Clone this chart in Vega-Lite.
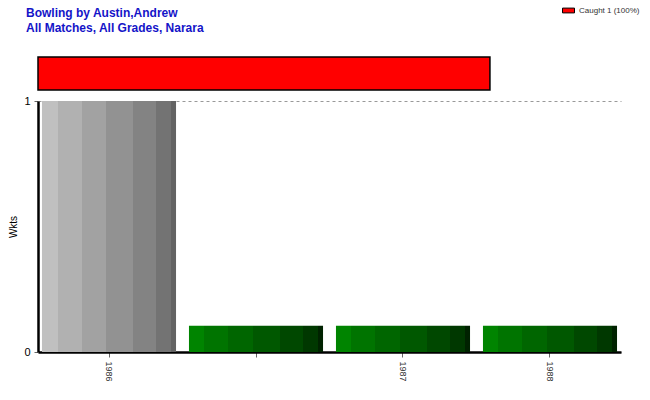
{
  "$schema": "https://vega.github.io/schema/vega-lite/v6.json",
  "autosize": {"type": "pad"},
  "padding": {"left": 8, "top": 4, "right": 5, "bottom": 5},
  "background": "white",
  "config": {
    "view": {"stroke": null},
    "font": "Liberation Sans"
  },
  "title": {
    "text": ["Bowling by Austin,Andrew", "All Matches, All Grades, Narara"],
    "anchor": "start",
    "frame": "group",
    "dx": -12,
    "offset": -31,
    "font": "Liberation Sans",
    "fontSize": 12,
    "fontWeight": "bold",
    "color": "#1414C8",
    "lineHeight": 15
  },
  "spacing": 4,
  "vconcat": [
    {
      "width": 583,
      "height": 33,
      "data": {"values": [{"type": "Caught 1 (100%)", "start": 0, "pct": 100}]},
      "mark": {"type": "rect", "stroke": "black", "strokeWidth": 1.5},
      "encoding": {
        "x": {"field": "start", "type": "quantitative", "scale": {"domain": [0, 129]}, "axis": null},
        "x2": {"field": "pct"},
        "color": {
          "field": "type",
          "type": "nominal",
          "scale": {"range": ["#ff0000"]},
          "legend": {
            "title": null,
            "orient": "none",
            "legendX": 524,
            "legendY": -53,
            "symbolType": "M-1,-0.4H1V0.4H-1Z",
            "symbolSize": 144,
            "symbolStrokeColor": "black",
            "symbolStrokeWidth": 1,
            "labelFontSize": 8,
            "labelColor": "#333333",
            "labelFont": "Liberation Sans"
          }
        }
      }
    },
    {
      "width": 583,
      "height": 251,
      "data": {
        "values": [
          {"year": "1986", "wkts": 1, "grp": "gray"},
          {"year": " ", "wkts": 0.105, "grp": "green"},
          {"year": "1987", "wkts": 0.105, "grp": "green"},
          {"year": "1988", "wkts": 0.105, "grp": "green"}
        ]
      },
      "encoding": {
        "x": {
          "field": "year",
          "type": "nominal",
          "scale": {"domain": ["1986", " ", "1987", "1988"], "paddingInner": 0.088, "paddingOuter": 0.027},
          "axis": {
            "title": null,
            "labelAngle": 90,
            "labelFontSize": 9,
            "labelColor": "#333333",
            "labelPadding": 4,
            "tickSize": 5,
            "tickColor": "#666666",
            "domainColor": "black",
            "domainWidth": 2.5,
            "grid": false
          }
        },
        "y": {
          "field": "wkts",
          "type": "quantitative",
          "scale": {"domain": [0, 1], "nice": false},
          "axis": {
            "title": "Wkts",
            "titleFontSize": 10,
            "titleFontWeight": "normal",
            "titleColor": "black",
            "titlePadding": 5,
            "values": [0, 1],
            "format": ".0f",
            "labelFontSize": 11,
            "labelColor": "black",
            "labelPadding": 4,
            "tickSize": 4,
            "tickColor": "#666666",
            "domainColor": "black",
            "domainWidth": 2.5,
            "grid": true,
            "gridColor": "#999999",
            "gridDash": [3, 3],
            "gridWidth": 1
          }
        }
      },
      "layer": [
        {
          "transform": [{"filter": "datum.grp === 'gray'"}],
          "mark": {
            "type": "bar",
            "fill": {
              "gradient": "linear", "x1": 0, "x2": 1, "y1": 0, "y2": 0,
              "stops": [
                {"offset": 0, "color": "#c0c0c0"}, {"offset": 0.12, "color": "#c0c0c0"},
                {"offset": 0.12, "color": "#b1b1b1"}, {"offset": 0.295, "color": "#b1b1b1"},
                {"offset": 0.295, "color": "#a2a2a2"}, {"offset": 0.48, "color": "#a2a2a2"},
                {"offset": 0.48, "color": "#929292"}, {"offset": 0.68, "color": "#929292"},
                {"offset": 0.68, "color": "#838383"}, {"offset": 0.85, "color": "#838383"},
                {"offset": 0.85, "color": "#737373"}, {"offset": 0.96, "color": "#737373"},
                {"offset": 0.96, "color": "#636363"}, {"offset": 1, "color": "#636363"}
              ]
            }
          }
        },
        {
          "transform": [{"filter": "datum.grp === 'green'"}],
          "mark": {
            "type": "bar",
            "fill": {
              "gradient": "linear", "x1": 0, "x2": 1, "y1": 0, "y2": 0,
              "stops": [
                {"offset": 0, "color": "#008400"}, {"offset": 0.113, "color": "#008400"},
                {"offset": 0.113, "color": "#007400"}, {"offset": 0.288, "color": "#007400"},
                {"offset": 0.288, "color": "#006600"}, {"offset": 0.476, "color": "#006600"},
                {"offset": 0.476, "color": "#005800"}, {"offset": 0.677, "color": "#005800"},
                {"offset": 0.677, "color": "#004800"}, {"offset": 0.852, "color": "#004800"},
                {"offset": 0.852, "color": "#003800"}, {"offset": 0.96, "color": "#003800"},
                {"offset": 0.96, "color": "#002200"}, {"offset": 1, "color": "#002200"}
              ]
            }
          }
        }
      ]
    }
  ]
}
